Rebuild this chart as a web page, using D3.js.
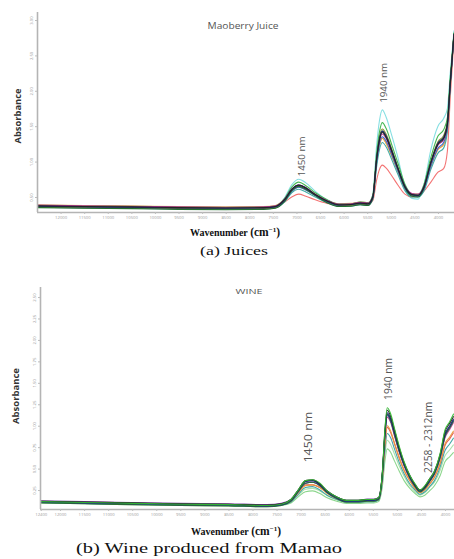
<!DOCTYPE html>
<html>
<head>
<meta charset="utf-8">
<script src="https://cdn.jsdelivr.net/npm/d3@7/dist/d3.min.js"></script>
<style>
  html, body { margin: 0; padding: 0; background: #fff; }
  svg { display: block; }
</style>
</head>
<body>
<svg id="chart" width="454" height="559"></svg>
<script>
// ---------- Panel (a): Maoberry juice NIR spectra ----------
const juiceWavenumbers = [12500, 11500, 10500, 9500, 8500, 7700, 7450, 7250, 7100, 6950, 6800, 6600, 6350, 6100, 5850, 5650, 5480, 5380, 5300, 5240, 5180, 5100, 4980, 4850, 4700, 4550, 4420, 4300, 4150, 4000, 3880, 3800, 3740, 3660];

const juiceCyan    = [0.37,0.36,0.36,0.35,0.34,0.35,0.36,0.49,0.67,0.75,0.70,0.58,0.46,0.39,0.39,0.42,0.41,0.54,1.23,1.58,1.73,1.63,1.37,1.06,0.64,0.48,0.47,0.66,1.17,1.50,1.61,1.75,2.25,2.85];
const juiceGreen   = [0.38,0.37,0.365,0.355,0.35,0.355,0.37,0.48,0.64,0.71,0.66,0.56,0.46,0.40,0.40,0.43,0.42,0.53,1.12,1.42,1.55,1.47,1.24,0.98,0.68,0.54,0.53,0.67,1.06,1.36,1.45,1.62,2.18,2.82];
const juiceOlive   = [0.36,0.35,0.345,0.335,0.33,0.335,0.35,0.46,0.60,0.67,0.63,0.53,0.44,0.38,0.38,0.40,0.39,0.50,1.06,1.35,1.46,1.39,1.18,0.92,0.65,0.52,0.52,0.64,1.01,1.28,1.37,1.56,2.12,2.80];
const juiceNavy    = [0.37,0.36,0.355,0.345,0.34,0.345,0.36,0.46,0.61,0.67,0.63,0.53,0.44,0.385,0.39,0.41,0.40,0.50,1.04,1.32,1.43,1.36,1.16,0.91,0.65,0.53,0.52,0.64,0.99,1.26,1.34,1.54,2.10,2.80];
const juiceBlack   = [0.375,0.365,0.36,0.35,0.345,0.35,0.365,0.465,0.605,0.665,0.625,0.535,0.445,0.39,0.395,0.415,0.405,0.505,1.035,1.305,1.415,1.345,1.145,0.905,0.645,0.535,0.525,0.635,0.985,1.245,1.325,1.53,2.10,2.80];
const juiceMagenta = [0.385,0.375,0.37,0.36,0.355,0.36,0.375,0.47,0.61,0.67,0.63,0.54,0.45,0.40,0.405,0.425,0.415,0.51,1.03,1.29,1.39,1.33,1.13,0.90,0.65,0.55,0.54,0.64,0.98,1.23,1.31,1.52,2.09,2.80];
const juiceBlue    = [0.365,0.355,0.35,0.34,0.335,0.34,0.355,0.45,0.58,0.64,0.60,0.52,0.43,0.38,0.385,0.40,0.395,0.49,0.99,1.25,1.35,1.29,1.10,0.87,0.62,0.52,0.51,0.61,0.94,1.19,1.27,1.49,2.08,2.80];
const juiceOrange  = [0.37,0.36,0.355,0.345,0.34,0.345,0.36,0.45,0.58,0.64,0.60,0.52,0.43,0.385,0.39,0.41,0.40,0.49,0.98,1.23,1.33,1.26,1.08,0.86,0.62,0.53,0.53,0.61,0.93,1.17,1.24,1.47,2.07,2.80];
const juiceTeal    = [0.355,0.345,0.34,0.33,0.325,0.33,0.345,0.43,0.56,0.61,0.57,0.50,0.42,0.37,0.37,0.39,0.38,0.47,0.93,1.17,1.27,1.21,1.03,0.82,0.59,0.50,0.50,0.58,0.89,1.12,1.19,1.43,2.05,2.80];
const juiceRed     = [0.38,0.37,0.365,0.355,0.35,0.355,0.37,0.43,0.50,0.54,0.51,0.46,0.41,0.39,0.395,0.41,0.40,0.45,0.74,0.89,0.95,0.91,0.80,0.67,0.54,0.50,0.51,0.58,0.71,0.85,0.90,1.15,1.90,2.75];
const juiceDkGreen = [0.35,0.34,0.335,0.325,0.32,0.325,0.34,0.44,0.59,0.65,0.61,0.52,0.42,0.365,0.37,0.39,0.38,0.49,1.04,1.32,1.43,1.36,1.15,0.90,0.63,0.51,0.50,0.62,0.99,1.26,1.34,1.55,2.12,2.82];
const juiceYellow  = [0.39,0.38,0.375,0.365,0.36,0.365,0.38,0.47,0.60,0.65,0.61,0.53,0.45,0.405,0.41,0.43,0.42,0.51,0.98,1.23,1.33,1.26,1.08,0.87,0.63,0.54,0.54,0.62,0.94,1.17,1.24,1.47,2.07,2.80];

const juiceSeries = [juiceCyan, juiceRed, juiceYellow, juiceOrange, juiceTeal, juiceBlue, juiceOlive, juiceGreen, juiceMagenta, juiceDkGreen, juiceNavy, juiceBlack];
const juiceColors = ["#7fdde0", "#f26b6b", "#d8c85a", "#eea040", "#3aa8a0", "#2f5fd0", "#8a8a2a", "#3cb44b", "#b03090", "#1f6b2a", "#1d2a80", "#222222"];

const juiceXTicks = [12000, 11500, 11000, 10500, 10000, 9500, 9000, 8500, 8000, 7500, 7000, 6500, 6000, 5500, 5000, 4500, 4000];
const juiceYTicks = [0.50, 1.00, 1.50, 2.00, 2.50, 3.00];

// ---------- Panel (b): Mamao wine NIR spectra ----------
const wineWavenumbers = [12400, 11500, 10500, 9500, 8500, 7700, 7400, 7200, 7050, 6900, 6750, 6600, 6450, 6250, 6050, 5800, 5620, 5480, 5380, 5300, 5250, 5200, 5130, 5050, 4950, 4850, 4730, 4620, 4520, 4420, 4320, 4220, 4100, 4000, 3900, 3820];

const wineGreen     = [0.115,0.105,0.095,0.085,0.08,0.07,0.085,0.14,0.25,0.36,0.37,0.33,0.24,0.17,0.13,0.13,0.14,0.14,0.16,0.47,0.95,1.21,1.14,0.97,0.76,0.58,0.42,0.32,0.25,0.30,0.38,0.47,0.68,0.95,1.05,1.14];
const wineBlack     = [0.12,0.11,0.10,0.09,0.085,0.075,0.09,0.14,0.25,0.36,0.37,0.32,0.24,0.17,0.13,0.13,0.14,0.14,0.16,0.47,0.93,1.18,1.11,0.95,0.74,0.57,0.42,0.31,0.25,0.29,0.38,0.47,0.67,0.93,1.03,1.11];
const wineNavy      = [0.11,0.10,0.09,0.08,0.075,0.065,0.08,0.13,0.24,0.35,0.36,0.31,0.23,0.16,0.12,0.12,0.13,0.13,0.15,0.45,0.90,1.15,1.08,0.92,0.72,0.55,0.40,0.30,0.24,0.28,0.36,0.45,0.65,0.90,1.00,1.08];
const wineBlue      = [0.105,0.095,0.085,0.075,0.07,0.06,0.075,0.12,0.23,0.33,0.34,0.30,0.22,0.15,0.115,0.115,0.125,0.125,0.145,0.44,0.88,1.12,1.06,0.90,0.70,0.54,0.39,0.29,0.23,0.27,0.35,0.44,0.63,0.88,0.98,1.06];
const winePurple    = [0.125,0.115,0.105,0.095,0.09,0.08,0.095,0.14,0.25,0.35,0.36,0.32,0.24,0.17,0.13,0.13,0.145,0.145,0.165,0.45,0.89,1.13,1.07,0.91,0.72,0.55,0.41,0.31,0.25,0.29,0.37,0.45,0.65,0.89,0.99,1.07];
const wineDkGreen   = [0.10,0.09,0.08,0.07,0.065,0.055,0.07,0.12,0.23,0.33,0.34,0.30,0.22,0.15,0.11,0.11,0.12,0.12,0.14,0.44,0.88,1.13,1.06,0.90,0.70,0.54,0.39,0.29,0.23,0.27,0.35,0.44,0.63,0.88,0.98,1.06];
const wineMagenta   = [0.115,0.105,0.095,0.085,0.08,0.07,0.085,0.13,0.24,0.33,0.34,0.30,0.23,0.16,0.12,0.12,0.13,0.13,0.15,0.44,0.86,1.10,1.04,0.88,0.69,0.53,0.39,0.29,0.24,0.28,0.35,0.44,0.63,0.86,0.96,1.04];
const wineOrange    = [0.11,0.10,0.09,0.08,0.075,0.065,0.08,0.12,0.22,0.30,0.31,0.28,0.21,0.15,0.115,0.115,0.125,0.125,0.14,0.40,0.79,1.00,0.94,0.80,0.63,0.48,0.36,0.27,0.22,0.25,0.32,0.40,0.57,0.79,0.87,0.94];
const wineRed       = [0.12,0.11,0.10,0.09,0.085,0.075,0.09,0.13,0.22,0.31,0.31,0.28,0.22,0.16,0.125,0.125,0.13,0.13,0.15,0.40,0.77,0.98,0.92,0.79,0.62,0.48,0.36,0.27,0.22,0.26,0.32,0.40,0.56,0.77,0.85,0.92];
const wineTeal      = [0.105,0.095,0.085,0.075,0.07,0.06,0.075,0.11,0.20,0.28,0.29,0.25,0.19,0.14,0.106,0.106,0.114,0.114,0.13,0.36,0.71,0.91,0.86,0.73,0.57,0.44,0.32,0.25,0.20,0.23,0.29,0.36,0.52,0.71,0.79,0.86];
const wineLightGreen = [0.10,0.09,0.08,0.07,0.065,0.055,0.07,0.10,0.17,0.23,0.24,0.21,0.16,0.12,0.095,0.095,0.10,0.10,0.115,0.30,0.58,0.73,0.69,0.59,0.47,0.36,0.27,0.21,0.17,0.19,0.24,0.30,0.42,0.58,0.64,0.69];
const winePaleGreen = [0.11,0.10,0.09,0.08,0.075,0.065,0.08,0.115,0.19,0.26,0.27,0.24,0.185,0.135,0.11,0.11,0.115,0.115,0.13,0.34,0.65,0.83,0.78,0.67,0.53,0.41,0.30,0.23,0.19,0.22,0.28,0.34,0.48,0.65,0.72,0.78];

const wineSeries = [wineLightGreen, winePaleGreen, wineTeal, wineRed, wineOrange, wineMagenta, winePurple, wineBlue, wineDkGreen, wineNavy, wineBlack, wineGreen];
const wineColors = ["#86d486", "#a6dfa6", "#3aa3a3", "#e25454", "#ea9c3a", "#c0388a", "#7440a0", "#3060d0", "#2c6e2c", "#1c2a7a", "#222222", "#33b833"];

const wineXTicks = [12400, 12000, 11500, 11000, 10500, 10000, 9500, 9000, 8500, 8000, 7500, 7000, 6500, 6000, 5500, 5000, 4500, 4000];
const wineYTicks = [0.25, 0.50, 0.75, 1.00, 1.25, 1.50, 1.75, 2.00, 2.25, 2.50];

// ---------- drawing ----------
const svg = d3.select("#chart");
const sans = "'Open Sans', 'Liberation Sans', Arial, sans-serif";
const serif = "'Liberation Serif', 'Times New Roman', serif";

function drawPanel(p) {
  const g = svg.append("g");
  const x = d3.scaleLinear().domain(p.xDomain).range([p.left, p.right]);
  const y = d3.scaleLinear().domain(p.yDomain).range([p.bottom, p.top]);

  const clipId = "clip-" + p.id;
  svg.append("clipPath").attr("id", clipId)
    .append("rect").attr("x", p.left).attr("y", p.top - 2)
    .attr("width", p.right - p.left).attr("height", p.bottom - p.top + 2);

  // spectra
  const line = d3.line()
    .x((d, i) => x(p.wavenumbers[i]))
    .y(d => y(d))
    .curve(d3.curveMonotoneX);
  g.append("g").attr("clip-path", `url(#${clipId})`)
    .selectAll("path").data(p.series).join("path")
    .attr("d", d => line(d))
    .attr("fill", "none")
    .attr("stroke", (d, i) => p.colors[i])
    .attr("stroke-width", 1.1)
    .attr("stroke-opacity", 0.95);

  // x axis
  const xAxis = d3.axisBottom(x).tickValues(p.xTicks).tickSize(2).tickPadding(2)
    .tickFormat(d3.format("d"));
  const gx = g.append("g").attr("transform", `translate(0,${p.bottom})`).call(xAxis);
  gx.select(".domain").attr("stroke", "#b4b4b4").attr("stroke-width", 1.6)
    .attr("d", `M${p.left},0.5H${p.right}`);
  gx.selectAll(".tick line").attr("stroke", "#bdbdbd");
  gx.selectAll(".tick text").attr("fill", "#9a9a9a").attr("font-size", 4.2)
    .attr("font-family", sans);

  // y axis (labels rotated along the axis)
  const yAxis = d3.axisLeft(y).tickValues(p.yTicks).tickSize(2).tickPadding(0)
    .tickFormat(d3.format(".2f"));
  const gy = g.append("g").attr("transform", `translate(${p.left},0)`).call(yAxis);
  gy.select(".domain").attr("stroke", "#b4b4b4").attr("stroke-width", 1.6)
    .attr("d", `M0.5,${p.top}V${p.bottom}`);
  gy.selectAll(".tick line").attr("stroke", "#bdbdbd");
  gy.selectAll(".tick text")
    .attr("fill", "#9a9a9a").attr("font-size", 4.2).attr("font-family", sans)
    .attr("text-anchor", "middle").attr("x", null).attr("dy", null)
    .attr("transform", "translate(-4,0) rotate(-90)");

  // panel title
  g.append("text").attr("x", p.title.x).attr("y", p.title.y)
    .attr("text-anchor", "middle").attr("font-family", sans)
    .attr("font-size", p.title.size).attr("fill", "#555")
    .attr("textLength", p.title.len).attr("lengthAdjust", "spacingAndGlyphs")
    .text(p.title.text);

  // y title
  g.append("text")
    .attr("transform", `translate(${p.yTitle.x},${p.yTitle.y}) rotate(-90)`)
    .attr("text-anchor", "middle").attr("font-family", sans)
    .attr("font-weight", "bold").attr("font-size", 8.5).attr("fill", "#333")
    .attr("textLength", p.yTitle.len).attr("lengthAdjust", "spacingAndGlyphs")
    .text("Absorbance");

  // band annotations, placed at the band's wavenumber
  p.bands.forEach(b => {
    g.append("text")
      .attr("transform", `translate(${x(1e7 / b.nm) + b.dx},${y(b.at)}) rotate(-90)`)
      .attr("text-anchor", "start").attr("font-family", sans)
      .attr("font-size", b.size).attr("fill", "#555")
      .attr("textLength", b.len).attr("lengthAdjust", "spacingAndGlyphs")
      .text(b.text);
  });

  // x title
  const xt = g.append("text").attr("x", p.xTitle.x).attr("y", p.xTitle.y)
    .attr("text-anchor", "middle").attr("font-family", serif)
    .attr("font-weight", "bold").attr("fill", "#111");
  xt.append("tspan").attr("font-size", 10).text("Wavenumber ");
  xt.append("tspan").attr("font-size", 11.5).text("(cm");
  xt.append("tspan").attr("font-size", 7).attr("dy", -4).text("−1");
  xt.append("tspan").attr("font-size", 11.5).attr("dy", 4).text(")");

  // caption
  g.append("text").attr("x", p.caption.x).attr("y", p.caption.y)
    .attr("text-anchor", "middle").attr("font-family", serif)
    .attr("font-size", p.caption.size).attr("fill", "#111")
    .attr("textLength", p.caption.len).attr("lengthAdjust", "spacingAndGlyphs")
    .text(p.caption.text);
}

drawPanel({
  id: "a",
  left: 37, right: 454, top: 12, bottom: 212,
  xDomain: [12500, 3660], yDomain: [0.288, 3.113],
  wavenumbers: juiceWavenumbers, series: juiceSeries, colors: juiceColors,
  xTicks: juiceXTicks, yTicks: juiceYTicks,
  title: { text: "Maoberry Juice", x: 243, y: 29, size: 8.5, len: 71 },
  yTitle: { x: 21, y: 116, len: 55 },
  bands: [
    { nm: 1450, text: "1450 nm", at: 0.79, dx: 3.5, size: 9.5, len: 40 },
    { nm: 1940, text: "1940 nm", at: 1.83, dx: 3.5, size: 9.5, len: 40 }
  ],
  xTitle: { x: 235, y: 236 },
  caption: { text: "(a) Juices", x: 234, y: 255, size: 13, len: 68 }
});

drawPanel({
  id: "b",
  left: 40, right: 454, top: 287, bottom: 509,
  xDomain: [12416, 3813], yDomain: [0.029, 2.617],
  wavenumbers: wineWavenumbers, series: wineSeries, colors: wineColors,
  xTicks: wineXTicks, yTicks: wineYTicks,
  title: { text: "WINE", x: 249, y: 294, size: 8, len: 27 },
  yTitle: { x: 19, y: 396, len: 56 },
  bands: [
    { nm: 1450, text: "1450 nm", at: 0.57, dx: 6.5, size: 10.5, len: 51 },
    { nm: 1940, text: "1940 nm", at: 1.30, dx: 2.5, size: 10.5, len: 42 },
    { nm: 2285, text: "2258 - 2312nm", at: 0.45, dx: 5, size: 10.5, len: 71 }
  ],
  xTitle: { x: 236, y: 535 },
  caption: { text: "(b) Wine produced from Mamao", x: 209, y: 553, size: 15, len: 266 }
});
</script>
</body>
</html>
